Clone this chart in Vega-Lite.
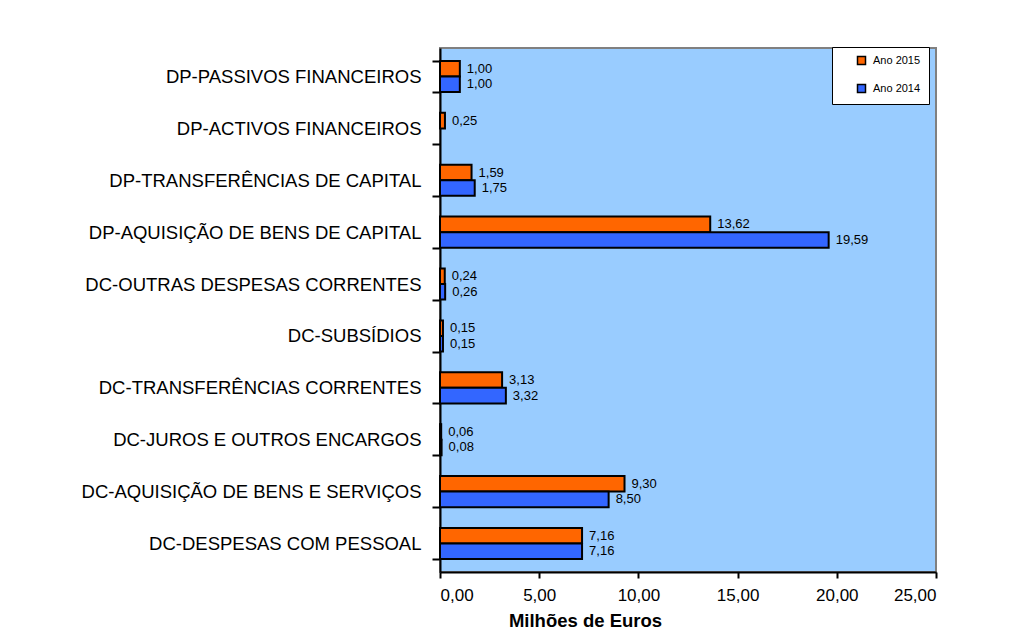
{
  "$schema": "https://vega.github.io/schema/vega-lite/v6.json",
  "width": 496,
  "height": 524,
  "autosize": {"type": "none"},
  "padding": {"left": 440, "top": 48, "right": 75, "bottom": 58},
  "background": "white",
  "config": {
    "view": {"fill": "#99CCFF", "stroke": "#808080", "strokeWidth": 2},
    "font": "Liberation Sans"
  },
  "data": {
    "values": [
      {"category": "DP-PASSIVOS FINANCEIROS", "year": "Ano 2015", "value": 1.00, "label": "1,00"},
      {"category": "DP-PASSIVOS FINANCEIROS", "year": "Ano 2014", "value": 1.00, "label": "1,00"},
      {"category": "DP-ACTIVOS FINANCEIROS", "year": "Ano 2015", "value": 0.25, "label": "0,25"},
      {"category": "DP-TRANSFERÊNCIAS DE CAPITAL", "year": "Ano 2015", "value": 1.59, "label": "1,59"},
      {"category": "DP-TRANSFERÊNCIAS DE CAPITAL", "year": "Ano 2014", "value": 1.75, "label": "1,75"},
      {"category": "DP-AQUISIÇÃO DE BENS DE CAPITAL", "year": "Ano 2015", "value": 13.62, "label": "13,62"},
      {"category": "DP-AQUISIÇÃO DE BENS DE CAPITAL", "year": "Ano 2014", "value": 19.59, "label": "19,59"},
      {"category": "DC-OUTRAS DESPESAS CORRENTES", "year": "Ano 2015", "value": 0.24, "label": "0,24"},
      {"category": "DC-OUTRAS DESPESAS CORRENTES", "year": "Ano 2014", "value": 0.26, "label": "0,26"},
      {"category": "DC-SUBSÍDIOS", "year": "Ano 2015", "value": 0.15, "label": "0,15"},
      {"category": "DC-SUBSÍDIOS", "year": "Ano 2014", "value": 0.15, "label": "0,15"},
      {"category": "DC-TRANSFERÊNCIAS CORRENTES", "year": "Ano 2015", "value": 3.13, "label": "3,13"},
      {"category": "DC-TRANSFERÊNCIAS CORRENTES", "year": "Ano 2014", "value": 3.32, "label": "3,32"},
      {"category": "DC-JUROS E OUTROS ENCARGOS", "year": "Ano 2015", "value": 0.06, "label": "0,06"},
      {"category": "DC-JUROS E OUTROS ENCARGOS", "year": "Ano 2014", "value": 0.08, "label": "0,08"},
      {"category": "DC-AQUISIÇÃO DE BENS E SERVIÇOS", "year": "Ano 2015", "value": 9.30, "label": "9,30"},
      {"category": "DC-AQUISIÇÃO DE BENS E SERVIÇOS", "year": "Ano 2014", "value": 8.50, "label": "8,50"},
      {"category": "DC-DESPESAS COM PESSOAL", "year": "Ano 2015", "value": 7.16, "label": "7,16"},
      {"category": "DC-DESPESAS COM PESSOAL", "year": "Ano 2014", "value": 7.16, "label": "7,16"}
    ]
  },
  "encoding": {
    "y": {
      "field": "category",
      "type": "nominal",
      "sort": null,
      "scale": {"paddingInner": 0.4, "paddingOuter": 0.25},
      "axis": {
        "title": null,
        "domainColor": "black",
        "domainWidth": 2,
        "tickColor": "black",
        "tickWidth": 2,
        "tickSize": 8,
        "tickBand": "extent",
        "labelFontSize": 18.5,
        "labelColor": "black",
        "labelPadding": 11,
        "labelLimit": 440
      }
    },
    "yOffset": {"field": "year", "type": "nominal", "sort": ["Ano 2015", "Ano 2014"]},
    "x": {
      "field": "value",
      "type": "quantitative",
      "scale": {"domain": [0, 25], "nice": false},
      "axis": {
        "title": "Milhões de Euros",
        "titleFontSize": 18.5,
        "titleFontWeight": "bold",
        "titleColor": "black",
        "titleX": 145,
        "titleY": 39,
        "values": [0, 5, 10, 15, 20, 25],
        "labelExpr": "replace(format(datum.value, '.2f'), '.', ',')",
        "grid": false,
        "domainColor": "black",
        "domainWidth": 2,
        "tickColor": "black",
        "tickWidth": 2,
        "tickSize": 6,
        "labelFontSize": 17,
        "labelColor": "black",
        "labelPadding": 9
      }
    }
  },
  "layer": [
    {
      "mark": {"type": "bar", "stroke": "black", "strokeWidth": 2},
      "encoding": {
        "color": {
          "field": "year",
          "type": "nominal",
          "scale": {"domain": ["Ano 2015", "Ano 2014"], "range": ["#FF6600", "#3366FF"]},
          "legend": {
            "title": null,
            "orient": "none",
            "legendX": 392,
            "legendY": -1,
            "fillColor": "white",
            "strokeColor": "black",
            "padding": 8,
            "symbolType": "square",
            "symbolSize": 64,
            "symbolStrokeColor": "black",
            "symbolStrokeWidth": 1.5,
            "symbolOpacity": 1,
            "symbolOffset": 16,
            "labelFontSize": 11,
            "labelOffset": 6,
            "labelColor": "black",
            "labelExpr": "datum.label + '\u00a0\u00a0\u00a0\u00a0\u00a0'",
            "rowPadding": 13
          }
        }
      }
    },
    {
      "mark": {"type": "text", "align": "left", "dx": 7, "fontSize": 13, "color": "black"},
      "encoding": {"text": {"field": "label", "type": "nominal"}}
    }
  ]
}
